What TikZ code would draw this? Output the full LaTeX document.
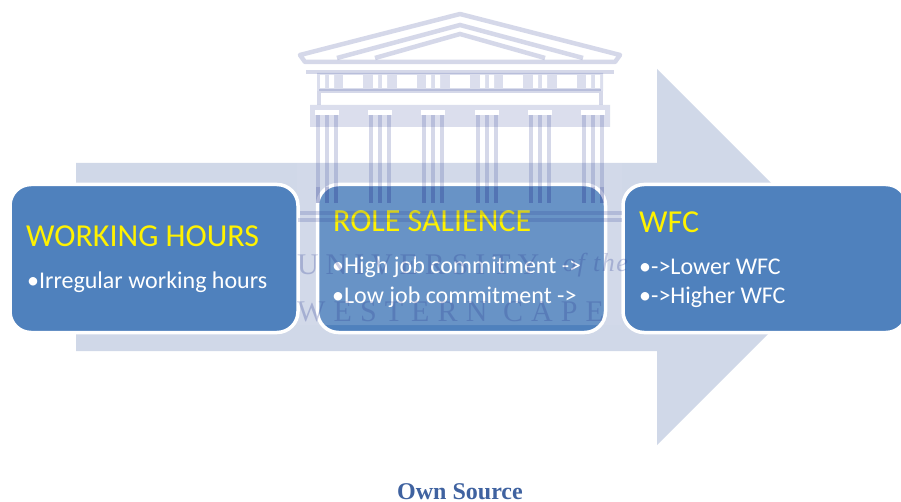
\documentclass[tikz,border=0pt]{standalone}
\usepackage{fontspec}
\setmainfont{Carlito}
\newfontfamily\crestfont[LetterSpace=27]{Liberation Serif}
\newfontfamily\crestshort[LetterSpace=23]{Liberation Serif}
\newfontfamily\crestslant[LetterSpace=6,ItalicFont={Liberation Serif Italic}]{Liberation Serif}
\newfontfamily\captionfont{Liberation Serif}
\definecolor{boxblue}{HTML}{4F81BD}
\definecolor{arrowtint}{HTML}{D0D8E8}
\definecolor{crestblue}{HTML}{2F3F95}
\definecolor{captionblue}{HTML}{3F62A0}
\begin{document}
\begin{tikzpicture}[x=1pt,y=-1pt,%
  stage/.style={draw=white,line width=3.5pt,fill=boxblue,rounded corners=21pt,
    minimum width=#1,minimum height=148pt,inner sep=0pt,outer sep=0pt},
  stagetitle/.style={font=\fontsize{32}{34}\selectfont,text=yellow,anchor=west,inner sep=0pt},
  stageitem/.style={font=\fontsize{24}{26}\selectfont,text=white,anchor=west,inner sep=0pt},
  crestline/.style={draw=crestblue,draw opacity=.2,line width=3.5pt},
  crestwhite/.style={fill=white,draw=none},
  cresttext/.style={font=\crestfont\fontsize{30}{32}\selectfont,text=crestblue,text opacity=.27,anchor=west,inner sep=0pt}]
\clip (0,0) rectangle (901,502);
\fill[white] (0,0) rectangle (901,502);
\fill[arrowtint] (76,163) -- (657,163) -- (657,69) -- (845,257) -- (657,445) -- (657,351) -- (76,351) -- cycle;
\node[stage=288pt] (hours) at (154,258.5) {};
\node[stage=288pt] (salience) at (461.5,258.5) {};
\node[stage=284pt] (wfc) at (765,258.5) {};
\fill[white,opacity=.05] (297,10) rectangle (622,325);
\fill[white,opacity=.1,rounded corners=20pt] (319,325) [sharp corners] -- (319,200) [rounded corners=20pt] -- (319,185) -- (604,185) [sharp corners] -- (604,325) -- cycle;
\node[stagetitle] (hourstitle) at (26,236) {WORKING HOURS};
\node[stageitem] (hoursone) at (27,282) {•Irregular working hours};
\node[stagetitle] (saliencetitle) at (333,221) {ROLE SALIENCE};
\node[stageitem] (salienceone) at (332,267) {•High job commitment ->};
\node[stageitem] (saliencetwo) at (332,297) {•Low job commitment ->};
\node[stagetitle] (wfctitle) at (639,222) {WFC};
\node[stageitem] (wfcone) at (639,267) {•->Lower WFC};
\node[stageitem] (wfctwo) at (639,297) {•->Higher WFC};
\fill[crestblue,opacity=.17] (317,73) rectangle (603,91) (310,105) rectangle (610,127);
\foreach \x in {343,397,450,503,557}
  \fill[crestwhite] (\x,75) rectangle +(20,13);
\foreach \x in {327,380,433,487,540,593}{
  \fill[crestwhite] (\x-7,75) rectangle +(5,13) (\x+2,75) rectangle +(5,13);
  \fill[crestwhite] (\x-12,110) rectangle +(24,5);
  \draw[crestline] (\x-9,115) -- (\x-9,203) (\x,115) -- (\x,203) (\x+9,115) -- (\x+9,203);
  \draw[crestline] (\x-9,187) -- (\x-9,203) (\x,187) -- (\x,203) (\x+9,187) -- (\x+9,203);
}
\draw[crestline,line width=4.5pt,line join=round] (305,62) -- (300,55) -- (460,14) -- (620,55) -- (615,62) -- cycle;
\draw[crestline,line width=4.5pt] (337,58) -- (460,25) -- (583,58);
\draw[crestline,line width=4.5pt] (375,58) -- (460,34) -- (545,58);
\draw[crestline] (306,72) -- (614,72) (319,91) -- (319,105) (601,91) -- (601,105) (319,91) -- (601,91);
\draw[crestline] (300,213) -- (622,213) (298,220) -- (622,220);
\node[cresttext,font=\crestshort\fontsize{30}{32}\selectfont] (crestone) at (297,265) {UNIVERSITY};
\node[cresttext,font=\crestslant\itshape\fontsize{26}{28}\selectfont] (cresttwo) at (563,265) {of the};
\node[cresttext] (crestthree) at (297,312) {WESTERN CAPE};
\node[font=\captionfont\bfseries\fontsize{24}{26}\selectfont,text=captionblue,inner sep=0pt] (caption) at (460,491.5) {Own Source};
\end{tikzpicture}
\end{document}
